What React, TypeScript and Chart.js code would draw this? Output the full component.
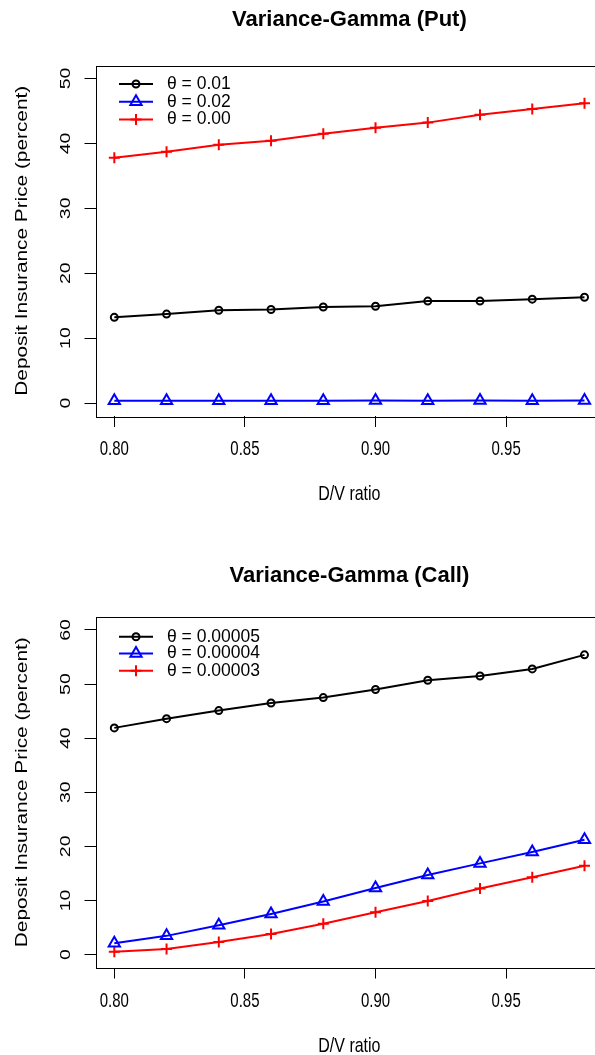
import React, { useEffect, useRef } from 'react';
import { Chart, registerables } from 'chart.js';

Chart.register(...registerables);

// ---------------- data ----------------
const DV_RATIO = [0.8, 0.82, 0.84, 0.86, 0.88, 0.9, 0.92, 0.94, 0.96, 0.98];
const X_TICKS = [0.8, 0.85, 0.9, 0.95];
const X_TICK_LABELS = ['0.80', '0.85', '0.90', '0.95'];

const PUT_TITLE = 'Variance-Gamma (Put)';
const PUT_LABELS = ['θ = 0.01', 'θ = 0.02', 'θ = 0.00'];
const PUT_THETA_001 = [13.2, 13.7, 14.3, 14.4, 14.8, 14.9, 15.7, 15.7, 16.0, 16.3];
const PUT_THETA_002 = [0.35, 0.35, 0.35, 0.35, 0.35, 0.38, 0.35, 0.38, 0.35, 0.38];
const PUT_THETA_000 = [37.8, 38.7, 39.8, 40.4, 41.5, 42.4, 43.2, 44.4, 45.3, 46.2];
const PUT_Y_TICKS = [0, 10, 20, 30, 40, 50];

const CALL_TITLE = 'Variance-Gamma (Call)';
const CALL_LABELS = ['θ = 0.00005', 'θ = 0.00004', 'θ = 0.00003'];
const CALL_THETA_5 = [41.9, 43.6, 45.1, 46.5, 47.5, 49.0, 50.7, 51.5, 52.8, 55.4];
const CALL_THETA_4 = [2.1, 3.45, 5.4, 7.5, 9.8, 12.3, 14.7, 16.85, 18.95, 21.2];
const CALL_THETA_3 = [0.5, 1.0, 2.3, 3.8, 5.7, 7.8, 9.9, 12.2, 14.3, 16.4];
const CALL_Y_TICKS = [0, 10, 20, 30, 40, 50, 60];

const X_TITLE = 'D/V ratio';
const Y_TITLE = 'Deposit Insurance Price (percent)';

// ---------------- styles ----------------
const SERIES_STYLE = [
  { color: '#000000', pointStyle: 'circle', radius: 3.5 },
  { color: '#0000FF', pointStyle: 'triangle', radius: 6.5 },
  { color: '#FF0000', pointStyle: 'cross', radius: 5.5 },
];
const FONT = '"Liberation Sans", Arial, sans-serif';
const CANVAS_W = 620;

type PanelCfg = {
  title: string;
  labels: string[];
  series: number[][];
  yTicks: number[];
  yMin: number;
  yMax: number;
  height: number;
  boxTop: number;
  boxBottom: number;
  titleY: number;
  xTickY: number;
  xTitleY: number;
  legendY: number[];
};

function drawText(
  ctx: CanvasRenderingContext2D,
  text: string,
  x: number,
  y: number,
  font: string,
  rotate = false,
  sy = 1,
  align: CanvasTextAlign = 'center'
) {
  ctx.save();
  ctx.translate(x, y);
  ctx.scale(1, sy);
  if (rotate) ctx.rotate(-Math.PI / 2);
  ctx.font = font;
  ctx.fillStyle = '#000';
  ctx.textAlign = align;
  ctx.textBaseline = 'middle';
  ctx.fillText(text, 0, 0);
  ctx.restore();
}

function drawMarker(ctx: CanvasRenderingContext2D, style: string, r: number, x: number, y: number) {
  ctx.beginPath();
  if (style === 'circle') {
    ctx.arc(x, y, r, 0, Math.PI * 2);
  } else if (style === 'triangle') {
    ctx.moveTo(x, y - r);
    ctx.lineTo(x + 0.866 * r, y + 0.5 * r);
    ctx.lineTo(x - 0.866 * r, y + 0.5 * r);
    ctx.closePath();
  } else {
    ctx.moveTo(x - r, y);
    ctx.lineTo(x + r, y);
    ctx.moveTo(x, y - r);
    ctx.lineTo(x, y + r);
  }
  ctx.stroke();
}

function makePlugin(cfg: PanelCfg) {
  return {
    id: 'rDecor',
    afterDraw(chart: any) {
      const { ctx, chartArea: a, scales } = chart;
      const xs = scales.x;
      const ys = scales.y;
      ctx.save();
      // box
      ctx.strokeStyle = '#000';
      ctx.lineWidth = 1;
      ctx.strokeRect(
        Math.round(a.left) + 0.5,
        Math.round(a.top) + 0.5,
        Math.round(a.right - a.left),
        Math.round(a.bottom - a.top)
      );
      const cx = (a.left + a.right) / 2;
      // title
      drawText(ctx, cfg.title, cx, cfg.titleY, `bold 22px ${FONT}`);
      // x tick labels
      X_TICKS.forEach((v, i) => {
        drawText(ctx, X_TICK_LABELS[i], xs.getPixelForValue(v), cfg.xTickY, `15px ${FONT}`, false, 1.3);
      });
      // y tick labels (rotated)
      cfg.yTicks.forEach((v) => {
        drawText(ctx, String(v), 66, ys.getPixelForValue(v), `15px ${FONT}`, true, 1.3);
      });
      // axis titles
      drawText(ctx, X_TITLE, cx, cfg.xTitleY, `16px ${FONT}`, false, 1.3);
      drawText(ctx, Y_TITLE, 23, (a.top + a.bottom) / 2, `16px ${FONT}`, true, 1.3);
      // legend
      cfg.labels.forEach((lab, i) => {
        const st = SERIES_STYLE[i];
        const y = cfg.legendY[i];
        ctx.strokeStyle = st.color;
        ctx.lineWidth = 2;
        ctx.beginPath();
        ctx.moveTo(119, y);
        ctx.lineTo(153, y);
        ctx.stroke();
        drawMarker(ctx, st.pointStyle, st.radius, 136, y);
        drawText(ctx, lab, 167, y, `17.5px ${FONT}`, false, 1, 'left');
      });
      ctx.restore();
    },
  };
}

function Panel({ cfg }: { cfg: PanelCfg }) {
  const ref = useRef<HTMLCanvasElement | null>(null);
  useEffect(() => {
    if (!ref.current) return;
    const datasets = cfg.series.map((vals, i) => {
      const st = SERIES_STYLE[i];
      return {
        label: cfg.labels[i],
        data: DV_RATIO.map((x, j) => ({ x, y: vals[j] })),
        borderColor: st.color,
        borderWidth: 2,
        pointStyle: st.pointStyle as any,
        pointRadius: st.radius,
        pointBorderWidth: 2,
        pointBorderColor: st.color,
        pointBackgroundColor: 'rgba(0,0,0,0)',
        tension: 0,
        fill: false,
      };
    });
    const xPad = (0.98 - 0.8) * 0.04;
    const chart = new Chart(ref.current, {
      type: 'line',
      data: { datasets },
      options: {
        animation: false,
        responsive: false,
        devicePixelRatio: 1,
        layout: { padding: { top: cfg.boxTop, right: CANVAS_W - 603.3, left: 0, bottom: 0 } },
        plugins: { legend: { display: false }, title: { display: false }, tooltip: { enabled: false } },
        scales: {
          x: {
            type: 'linear',
            min: 0.8 - xPad,
            max: 0.98 + xPad,
            afterBuildTicks: (ax: any) => {
              ax.ticks = X_TICKS.map((value) => ({ value }));
            },
            afterFit: (s: any) => {
              s.height = cfg.height - cfg.boxBottom;
            },
            grid: { drawOnChartArea: false, drawTicks: true, tickLength: 11, color: '#000', lineWidth: 1 },
            border: { display: false },
            ticks: { display: false },
          },
          y: {
            type: 'linear',
            min: cfg.yMin,
            max: cfg.yMax,
            afterBuildTicks: (ax: any) => {
              ax.ticks = cfg.yTicks.map((value) => ({ value }));
            },
            afterFit: (s: any) => {
              s.width = 95.5;
            },
            grid: { drawOnChartArea: false, drawTicks: true, tickLength: 11, color: '#000', lineWidth: 1 },
            border: { display: false },
            ticks: { display: false },
          },
        },
      },
      plugins: [makePlugin(cfg)],
    } as any);
    return () => chart.destroy();
  }, [cfg]);
  return <canvas ref={ref} width={CANVAS_W} height={cfg.height} style={{ display: 'block' }} />;
}

const PUT_CFG: PanelCfg = {
  title: PUT_TITLE,
  labels: PUT_LABELS,
  series: [PUT_THETA_001, PUT_THETA_002, PUT_THETA_000],
  yTicks: PUT_Y_TICKS,
  yMin: -2,
  yMax: 52,
  height: 527,
  boxTop: 65.5,
  boxBottom: 416,
  titleY: 20,
  xTickY: 449.5,
  xTitleY: 494,
  legendY: [84, 101.7, 119.5],
};

const CALL_CFG: PanelCfg = {
  title: CALL_TITLE,
  labels: CALL_LABELS,
  series: [CALL_THETA_5, CALL_THETA_4, CALL_THETA_3],
  yTicks: CALL_Y_TICKS,
  yMin: -2.4,
  yMax: 62.4,
  height: 528,
  boxTop: 90,
  boxBottom: 440.5,
  titleY: 48.5,
  xTickY: 474.5,
  xTitleY: 519,
  legendY: [109.7, 126.5, 143.7],
};

export default function App() {
  return (
    <div
      style={{
        position: 'fixed',
        left: 0,
        top: 0,
        width: 595,
        height: 1055,
        overflow: 'hidden',
        background: '#fff',
      }}
    >
      <div style={{ position: 'absolute', left: 0, top: 0 }}>
        <Panel cfg={PUT_CFG} />
      </div>
      <div style={{ position: 'absolute', left: 0, top: 527 }}>
        <Panel cfg={CALL_CFG} />
      </div>
    </div>
  );
}
